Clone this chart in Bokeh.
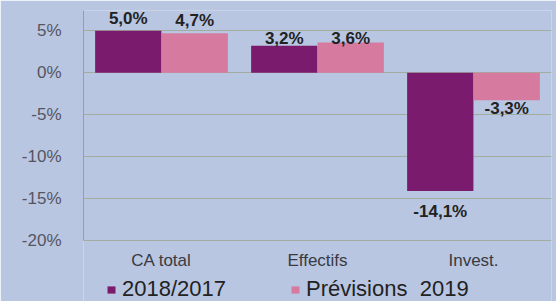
from bokeh.plotting import figure
from bokeh.models import FactorRange, Range1d, FixedTicker, ColumnDataSource, Legend, LegendItem
from bokeh.transform import dodge
from bokeh.core.properties import value
from bokeh.embed import file_html
from bokeh.resources import INLINE

# ---- data ----
categories = ["CA total", "Effectifs", "Invest."]
series_names = ["2018/2017", "Prévisions  2019"]
v2018 = [5.0, 3.2, -14.1]
v2019 = [4.7, 3.6, -3.3]
yticks = [-20, -15, -10, -5, 0, 5]

# ---- styles ----
BG = "#b8c6e2"
C1 = "#7b1b6d"
C2 = "#d67b9f"
FONT = "Liberation Sans"
label_offsets_2018 = [-12, -7, 20]   # screen px shift of each value label
label_offsets_2019 = [-13, -4, 8]
PX_PER_UNIT = 8.4                    # vertical scale (px per %)
YMAX = 7.4
BOTTOM_PX = 61                       # room below the -20% line for labels and legend

def fmt(v):
    return ("%.1f%%" % v).replace(".", ",")

ymin_axis = min(yticks)
ymin = ymin_axis - BOTTOM_PX / PX_PER_UNIT

src = ColumnDataSource(dict(cat=categories, a=v2018, b=v2019))

p = figure(width=556, height=301, x_range=FactorRange(*categories), y_range=Range1d(ymin, YMAX),
           output_backend="svg", toolbar_location=None, x_axis_location=None,
           background_fill_color=BG, border_fill_color=BG, outline_line_color=None,
           min_border_left=83, min_border_right=5, min_border_top=10, min_border_bottom=0)
p.x_range.range_padding = 0

r1 = p.vbar(x=dodge("cat", -0.213, range=p.x_range), top="a", bottom=0, width=0.425, source=src,
            fill_color=C1, line_color=None)
r2 = p.vbar(x=dodge("cat", 0.213, range=p.x_range), top="b", bottom=0, width=0.425, source=src,
            fill_color=C2, line_color=None)

def add_labels(vals, offsets, off):
    lsrc = ColumnDataSource(dict(cat=categories, y=vals, t=[fmt(v) for v in vals], dy=offsets))
    p.text(x=dodge("cat", off, range=p.x_range), y="y", text="t", source=lsrc,
           text_align="center", text_baseline="alphabetic", text_font=value(FONT),
           text_font_size="17px", text_font_style="bold", text_color="#222222", y_offset="dy")

add_labels(v2018, label_offsets_2018, -0.213)
add_labels(v2019, label_offsets_2019, 0.213)

# category labels under the axis
csrc = ColumnDataSource(dict(cat=categories, y=[ymin_axis] * len(categories)))
p.text(x="cat", y="y", text="cat", source=csrc, text_align="center", text_baseline="middle",
       text_font=value(FONT), text_font_size="17px", text_color="#3a3a40", y_offset=20)

p.yaxis.ticker = FixedTicker(ticks=yticks)
p.yaxis.bounds = (ymin_axis, YMAX)
p.yaxis.major_label_overrides = {t: "%d%%" % t for t in yticks}
p.yaxis.major_tick_line_color = None
p.yaxis.minor_tick_line_color = None
p.yaxis.axis_line_color = "#9a9aa8"
p.yaxis.major_label_text_font = FONT
p.yaxis.major_label_text_font_size = "17px"
p.yaxis.major_label_text_color = "#55555f"
p.yaxis.major_label_standoff = 16

p.xgrid.grid_line_color = None
p.ygrid.grid_line_color = "#a2ad9f"
p.ygrid.grid_line_width = 1

legend = Legend(items=[LegendItem(label=series_names[0], renderers=[r1]),
                       LegendItem(label=series_names[1], renderers=[r2])],
                orientation="horizontal", location=(23, -1),
                background_fill_alpha=0, border_line_color=None,
                label_text_font=FONT, label_text_font_size="22px", label_text_color="#222222",
                glyph_width=10, glyph_height=9, spacing=64, padding=0, margin=0,
                label_standoff=6, label_height=22)
p.add_layout(legend, "center")

open("out.html", "w").write(file_html(p, INLINE))
